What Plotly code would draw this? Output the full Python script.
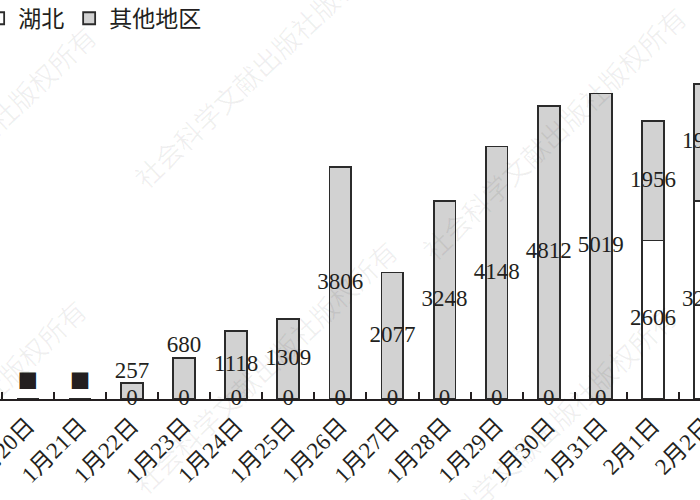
import plotly.graph_objects as go

dates = ["1月20日", "1月21日", "1月22日", "1月23日", "1月24日", "1月25日", "1月26日",
         "1月27日", "1月28日", "1月29日", "1月30日", "1月31日", "2月1日", "2月2日"]
hubei = [0, 0, 0, 0, 0, 0, 0, 0, 0, 0, 0, 0, 2606, 3251]
other = [None, None, 257, 680, 1118, 1309, 3806, 2077, 3248, 4148, 4812, 5019, 1956, 1925]
hubei_text = ["■", "■", "0", "0", "0", "0", "0", "0", "0", "0", "0", "0", "2606", "3251"]
other_text = ["", "", "257", "680", "1118", "1309", "3806", "2077", "3248", "4148", "4812", "5019", "1956", "1925"]
other_outside = [False, False, True, True, False, False, False, False, False, False, False, False, False, False]

INK = "#231f20"
GRAY = "#d2d2d2"
EDGE = "#2b2b2b"
FONT = "Liberation Serif, Noto Sans CJK SC"
FS = 23

fig = go.Figure()
fig.add_trace(go.Bar(x=dates, y=hubei, name="湖北", width=0.42,
                     marker=dict(color="white", line=dict(color=EDGE, width=1.8))))
fig.add_trace(go.Bar(x=dates, y=other, name="其他地区", width=0.42,
                     marker=dict(color=GRAY, line=dict(color=EDGE, width=1.8))))

# labels
h_y = [h / 2 for h in hubei]
h_pos = ["top center" if t == "■" else "middle center" for t in hubei_text]
h_size = [34 if t == "■" else FS for t in hubei_text]
fig.add_trace(go.Scatter(x=dates, y=h_y, mode="text", text=hubei_text, textposition=h_pos,
                         textfont=dict(size=h_size, color=INK, family=FONT),
                         showlegend=False, cliponaxis=False, hoverinfo="skip"))
o_y, o_pos = [], []
for h, o, out in zip(hubei, other, other_outside):
    if o is None:
        o_y.append(None)
        o_pos.append("middle center")
    elif out:
        o_y.append(h + o)
        o_pos.append("top center")
    else:
        o_y.append(h + o / 2)
        o_pos.append("middle center")
fig.add_trace(go.Scatter(x=dates, y=o_y, mode="text", text=other_text, textposition=o_pos,
                         textfont=dict(size=FS, color=INK, family=FONT),
                         showlegend=False, cliponaxis=False, hoverinfo="skip"))

# watermark
W, PH = 705, 399
wm = "社会科学文献出版社版权所有"
for cx, cy in [(265, 61), (553, 133), (-37, 152), (-47, 426), (264, 367), (544, 433)]:
    fig.add_annotation(text=wm, xref="paper", yref="paper", x=cx / W, y=(PH - cy) / PH,
                       xanchor="center", yanchor="middle",
                       showarrow=False, textangle=-43.6,
                       font=dict(size=27, color="rgba(0,0,0,0.06)", family="Noto Sans CJK SC"))

fig.update_layout(
    width=W, height=500,
    barmode="stack",
    paper_bgcolor="white", plot_bgcolor="white",
    margin=dict(l=0, r=0, t=0, b=500 - PH, autoexpand=False),
    font=dict(family=FONT, size=FS, color=INK),
    legend=dict(orientation="h", traceorder="normal", x=-0.031, y=1.008, xanchor="left", yanchor="top",
                bgcolor="rgba(0,0,0,0)", font=dict(size=FS, family=FONT, color=INK)),
    xaxis=dict(type="category", range=[-0.534, 13.0], showline=True, linecolor=INK, linewidth=2,
               ticks="inside", tickson="boundaries", ticklen=7, tickwidth=2, tickcolor=INK,
               tickangle=-45, ticklabelstandoff=2,
               tickfont=dict(size=FS, family=FONT, color=INK), showgrid=False),
    yaxis=dict(range=[0, 6556], visible=False, showgrid=False, zeroline=False),
)

fig.write_html("out.html", config={"displayModeBar": False},
               post_script="document.body.style.margin='0';")
